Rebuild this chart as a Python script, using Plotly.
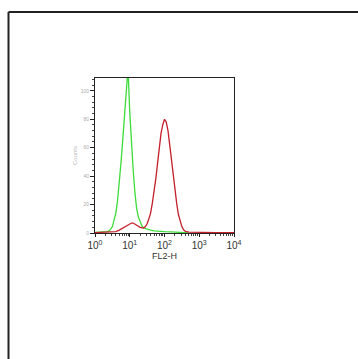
import plotly.graph_objects as go

# FL2-H positions (decades, log10) and event counts
green_log = [0.00, 0.10, 0.20, 0.30, 0.35, 0.40, 0.45, 0.50, 0.55, 0.60, 0.65, 0.70, 0.75,
             0.80, 0.85, 0.90, 0.95, 1.00, 1.05, 1.10, 1.15, 1.20, 1.25, 1.30, 1.35, 1.40,
             1.50, 1.60, 1.70, 1.80, 1.90, 2.00, 2.20, 2.40, 2.50, 2.60, 2.70]
green_cnt = [0.5, 0.7, 0.5, 0.8, 1.0, 1.5, 2.5, 4.5, 9, 14, 23, 35, 50,
             66, 82, 104, 116, 85, 62, 44, 28, 17, 11, 8, 5, 3.5,
             2.5, 2, 1.5, 1.2, 1.0, 1.0, 0.8, 0.6, 0.4, 0.2, 0.0]

red_log = [0.00, 0.50, 0.60, 0.70, 0.80, 0.90, 1.00, 1.05, 1.10, 1.15, 1.20, 1.30, 1.40,
           1.45, 1.50, 1.55, 1.60, 1.65, 1.70, 1.75, 1.80, 1.85, 1.90, 1.95, 2.00, 2.05,
           2.10, 2.15, 2.20, 2.25, 2.30, 2.35, 2.40, 2.45, 2.50, 2.55, 2.60, 2.70, 3.00,
           3.50, 4.00]
red_cnt = [0.3, 0.5, 1, 2, 3.5, 5, 6.5, 7, 7, 6.5, 5.5, 4, 3.5,
           4.5, 6.5, 10, 14, 21, 28, 38, 49, 60, 70, 76, 80, 78,
           72, 62, 51, 40, 29, 21, 13, 8, 4.5, 2.2, 1.2, 0.6, 0.4,
           0.3, 0.3]

x_tickvals = [1, 10, 100, 1000, 10000]
x_ticktext = ["10<sup>0</sup>", "10<sup>1</sup>", "10<sup>2</sup>", "10<sup>3</sup>", "10<sup>4</sup>"]
y_tickvals = [0, 20, 40, 60, 80, 100]
y_ticktext = ["0", "20", "40", "60", "80", "100"]

fig = go.Figure()
fig.add_trace(go.Scatter(x=[10 ** v for v in green_log], y=green_cnt, mode="lines",
                         line=dict(color="#3ddc3a", width=1.3), showlegend=False))
fig.add_trace(go.Scatter(x=[10 ** v for v in red_log], y=red_cnt, mode="lines",
                         line=dict(color="#c41f2a", width=1.3), showlegend=False))

L, R, T, B = 95, 234, 78, 233
W, H = 358, 359
fig.update_layout(
    width=W, height=H,
    margin=dict(l=L, r=W - R, t=T, b=H - B, pad=0),
    paper_bgcolor="white", plot_bgcolor="white",
    font=dict(family="Liberation Sans, Arial, sans-serif", color="#333"),
    xaxis=dict(type="log", range=[0, 4], tickvals=x_tickvals, ticktext=x_ticktext,
               ticks="outside", ticklen=3, tickcolor="#222", showgrid=False,
               showline=True, linecolor="#222", linewidth=1, mirror=True, zeroline=False,
               tickfont=dict(size=10, color="#333"),
               title=dict(text="FL2-H", font=dict(size=9, color="#333"), standoff=0),
               minor=dict(ticks="outside", ticklen=2, tickcolor="#444", dtick="D1")),
    yaxis=dict(range=[0, 109], tickvals=y_tickvals, ticktext=y_ticktext,
               ticks="outside", ticklen=4, tickcolor="#222", showgrid=False,
               showline=True, linecolor="#222", linewidth=1, mirror=True, zeroline=False,
               tickfont=dict(size=5, color="#aaa"),
               title=dict(text="Counts", font=dict(size=6, color="#bbb"), standoff=2),
               minor=dict(ticks="outside", ticklen=2, tickcolor="#444", dtick=4)),
)

# outer frame (left and top edges)
def px_x(p):
    return (p - L) / (R - L)

def px_y(p):
    return (B - p) / (B - T)

fig.add_shape(type="line", xref="paper", yref="paper",
              x0=px_x(8.5), x1=px_x(8.5), y0=px_y(12), y1=px_y(365),
              line=dict(color="#222", width=2))
fig.add_shape(type="line", xref="paper", yref="paper",
              x0=px_x(8.5), x1=px_x(365), y0=px_y(12), y1=px_y(12),
              line=dict(color="#222", width=2))

fig.write_html("out.html", config={"displayModeBar": False},
               post_script="document.body.style.margin='0px';document.body.style.overflow='hidden';")
